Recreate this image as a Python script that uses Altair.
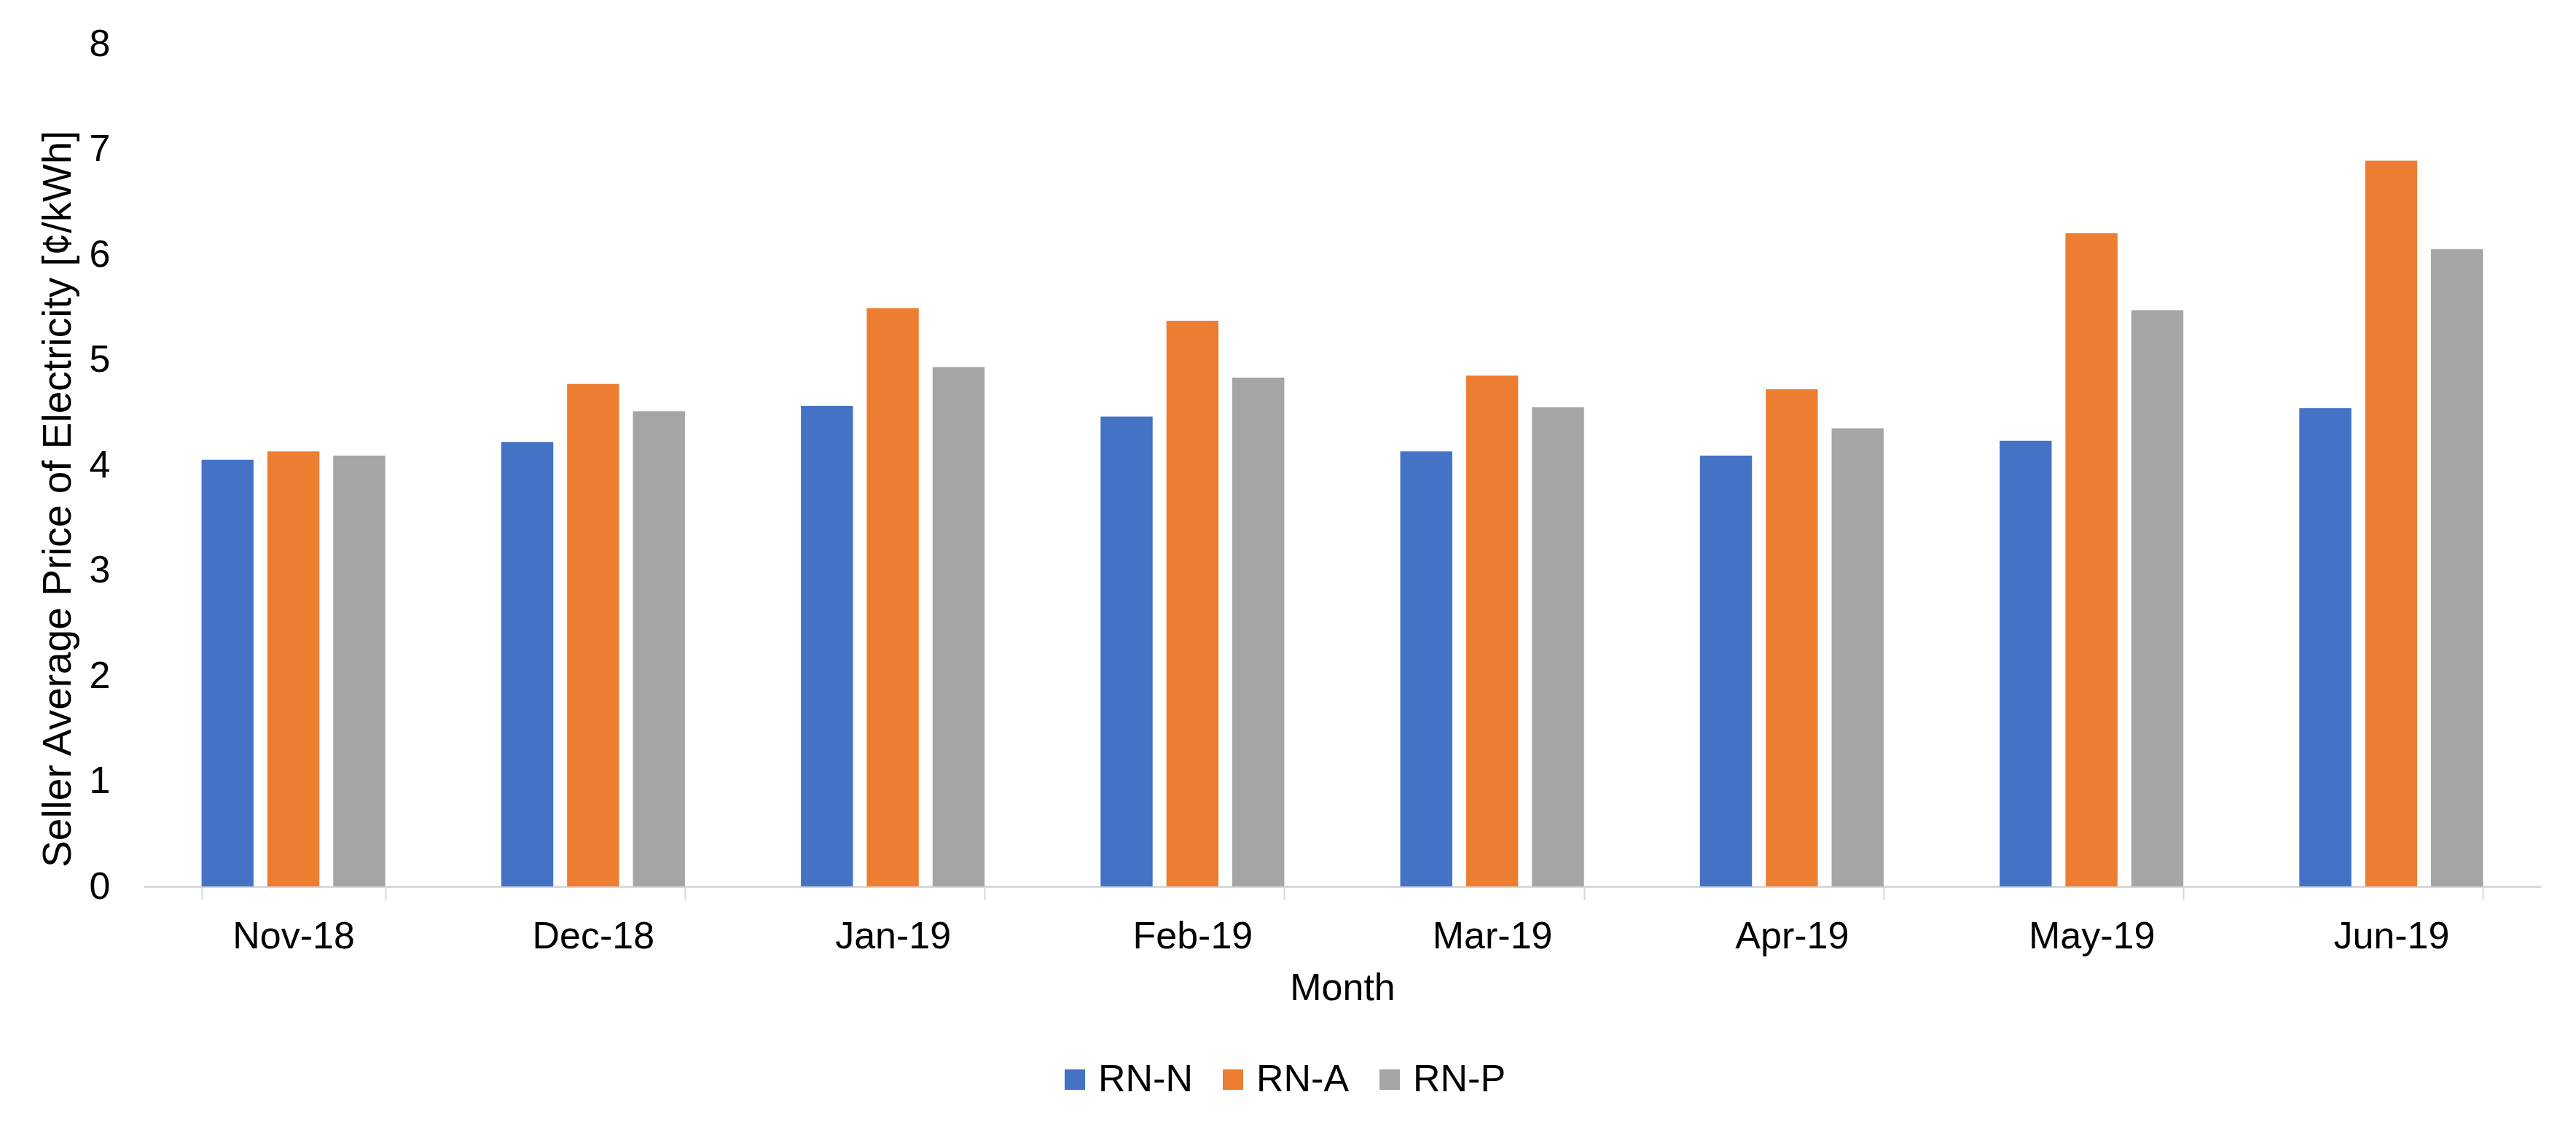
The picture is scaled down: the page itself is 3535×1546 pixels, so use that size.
import altair as alt
import pandas as pd

months = ["Nov-18", "Dec-18", "Jan-19", "Feb-19", "Mar-19", "Apr-19", "May-19", "Jun-19"]
series = ["RN-N", "RN-A", "RN-P"]
rn_n = [4.05, 4.22, 4.56, 4.46, 4.13, 4.09, 4.23, 4.54]
rn_a = [4.13, 4.77, 5.49, 5.37, 4.85, 4.72, 6.20, 6.89]
rn_p = [4.09, 4.51, 4.93, 4.83, 4.55, 4.35, 5.47, 6.05]
colors = ["#4472C4", "#ED7D31", "#A5A5A5"]
y_ticks = [0, 1, 2, 3, 4, 5, 6, 7, 8]

rows = []
for i, m in enumerate(months):
    for s, vals in zip(series, [rn_n, rn_a, rn_p]):
        rows.append({"Month": m, "Series": s, "Value": vals[i]})
df = pd.DataFrame(rows)

FONT = "Liberation Sans"
FS = 52

chart = alt.Chart(df).mark_bar().encode(
    x=alt.X(
        "Month:N", sort=months,
        scale=alt.Scale(paddingInner=0.387, paddingOuter=0.1935),
        axis=alt.Axis(
            title="Month", labelAngle=0, tickBand="extent",
            domainColor="#d9d9d9", domainWidth=3,
            tickColor="#d9d9d9", tickWidth=2, tickSize=18,
            labelPadding=25, labelFontSize=FS, labelColor="#000000",
            titleFontSize=FS, titleFontWeight="normal", titleColor="#000000",
            titlePadding=20,
        ),
    ),
    xOffset=alt.XOffset("Series:N", sort=series,
                        scale=alt.Scale(paddingInner=0.21, paddingOuter=0)),
    y=alt.Y(
        "Value:Q",
        scale=alt.Scale(domain=[0, 8], nice=False),
        axis=alt.Axis(
            values=y_ticks, grid=False, domain=False, ticks=False,
            labelPadding=46, labelFontSize=FS, labelColor="#000000",
            title="Seller Average  Price of Electricity [¢/kWh]",
            titleFontSize=55, titleFontWeight="normal", titleColor="#000000",
            titleX=-118, titleY=624, titleBaseline="middle",
        ),
    ),
    color=alt.Color(
        "Series:N", sort=series,
        scale=alt.Scale(domain=series, range=colors),
        legend=alt.Legend(
            title=None, orient="none", direction="horizontal",
            legendX=1252, legendY=1395,
            symbolType="square", symbolSize=784, symbolStrokeWidth=0,
            labelFontSize=FS, labelColor="#000000", labelOffset=6,
            columnPadding=29, padding=0,
        ),
    ),
).properties(
    width=3290, height=1156,
    autosize=alt.AutoSizeParams(type="none"),
    padding={"left": 189, "top": 52, "right": 40, "bottom": 322},
).configure(font=FONT).configure_view(stroke=None)

chart.save("out.html", embed_options={"renderer": "svg", "actions": False})
